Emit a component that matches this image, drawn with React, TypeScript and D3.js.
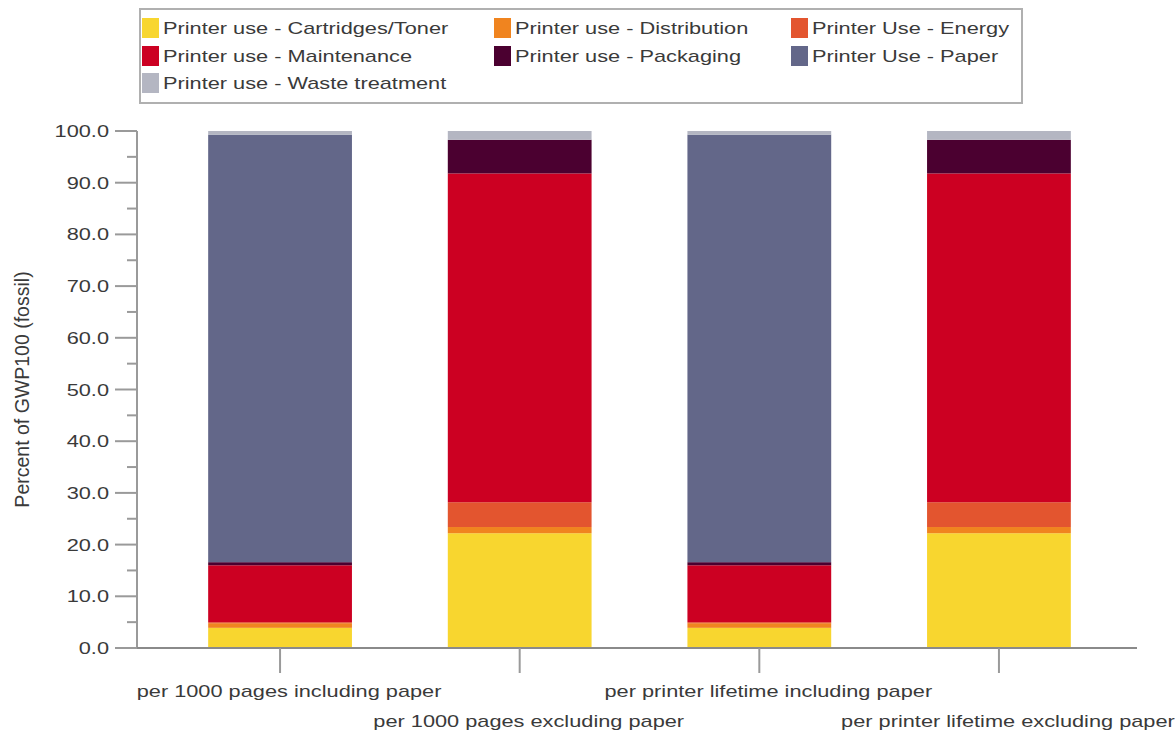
import React from "react";
import * as d3 from "d3";

const categories = [
  "per 1000 pages including paper",
  "per 1000 pages excluding paper",
  "per printer lifetime including paper",
  "per printer lifetime excluding paper",
];

const seriesNames = [
  "Printer use - Cartridges/Toner",
  "Printer use - Distribution",
  "Printer Use - Energy",
  "Printer use - Maintenance",
  "Printer use - Packaging",
  "Printer Use - Paper",
  "Printer use - Waste treatment",
];

const seriesColors = ["#f8d62f", "#f0841f", "#e3552f", "#cc0022", "#4b0030", "#636789", "#b4b6c2"];

// percent shares, one array per series, in category order
const cartridges = [3.9, 22.2, 3.9, 22.2];
const distribution = [0.9, 1.2, 0.9, 1.2];
const energy = [0.2, 4.8, 0.2, 4.8];
const maintenance = [11.0, 63.6, 11.0, 63.6];
const packaging = [0.6, 6.5, 0.6, 6.5];
const paper = [82.7, 0, 82.7, 0];
const waste = [0.7, 1.7, 0.7, 1.7];

const yTicks = [0, 10, 20, 30, 40, 50, 60, 70, 80, 90, 100];
const yMinorTicks = [5, 15, 25, 35, 45, 55, 65, 75, 85, 95];

const W = 1175;
const H = 732;
const FONT = "'Liberation Sans', Arial, sans-serif";
const SX = 1.28; // horizontal stretch of the source rendering
const TEXT = "#3a3a3a";
const AXIS = "#9a9a9a";

const SText: React.FC<{ x: number; y: number; anchor?: string; size?: number; children: React.ReactNode }> = ({
  x,
  y,
  anchor = "start",
  size = 17,
  children,
}) => (
  <text
    transform={`translate(${x},${y}) scale(${SX},1)`}
    textAnchor={anchor as any}
    fontFamily={FONT}
    fontSize={size}
    fill={TEXT}
  >
    {children}
  </text>
);

export default function App() {
  const seriesValues = [cartridges, distribution, energy, maintenance, packaging, paper, waste];
  const rows = categories.map((c, i) => {
    const r: Record<string, any> = { category: c };
    seriesNames.forEach((s, j) => (r[s] = seriesValues[j][i]));
    return r;
  });
  const stacked = d3.stack<any>().keys(seriesNames)(rows);

  const x = d3
    .scaleBand<string>()
    .domain(categories)
    .range([137, 1142])
    .paddingInner(0.4)
    .paddingOuter(0.297);
  const y = d3.scaleLinear().domain([0, 100]).range([648, 131]);

  const legendCols = [163, 515, 812];
  const legendRows = [34, 62, 89];

  return (
    <svg width={W} height={H} style={{ position: "absolute", left: 0, top: 0, background: "#fff" }}>
      {/* legend */}
      <rect x={140} y={9} width={882} height={94} fill="#fff" stroke="#b0b0b0" strokeWidth={2} />
      {seriesNames.map((s, i) => {
        const cx = legendCols[i % 3];
        const cy = legendRows[Math.floor(i / 3)];
        return (
          <g key={s}>
            <rect x={cx - 21} y={cy - 16} width={17} height={20} fill={seriesColors[i]} />
            <SText x={cx} y={cy}>
              {s}
            </SText>
          </g>
        );
      })}

      {/* bars */}
      {stacked.map((layer, i) => (
        <g key={layer.key} fill={seriesColors[i]}>
          {layer.map((d, k) => (
            <rect
              key={k}
              x={x(d.data.category)}
              y={y(d[1])}
              width={x.bandwidth()}
              height={Math.max(0, y(d[0]) - y(d[1]))}
            />
          ))}
        </g>
      ))}

      {/* y axis */}
      <line x1={137} x2={137} y1={y(100)} y2={y(0)} stroke={AXIS} strokeWidth={2} />
      {yTicks.map((t) => (
        <g key={t}>
          <line x1={115} x2={137} y1={y(t)} y2={y(t)} stroke={AXIS} strokeWidth={2} />
          <SText x={109} y={y(t) + 6} anchor="end">
            {d3.format(".1f")(t)}
          </SText>
        </g>
      ))}
      {yMinorTicks.map((t) => (
        <line key={t} x1={127} x2={137} y1={y(t)} y2={y(t)} stroke={AXIS} strokeWidth={2} />
      ))}
      <text
        transform={`translate(29,${(y(0) + y(100)) / 2}) rotate(-90)`}
        textAnchor="middle"
        fontFamily={FONT}
        fontSize={19.5}
        fill={TEXT}
      >
        Percent of GWP100 (fossil)
      </text>

      {/* x axis */}
      <line x1={137} x2={1137} y1={y(0)} y2={y(0)} stroke="#8a8a8a" strokeWidth={2} />
      {categories.map((c, i) => {
        const cx = (x(c) as number) + x.bandwidth() / 2;
        return (
          <g key={c}>
            <line x1={cx} x2={cx} y1={y(0)} y2={y(0) + 25} stroke={AXIS} strokeWidth={2} />
            <SText x={cx + 9} y={i % 2 === 0 ? 697 : 727} anchor="middle">
              {c}
            </SText>
          </g>
        );
      })}
    </svg>
  );
}
